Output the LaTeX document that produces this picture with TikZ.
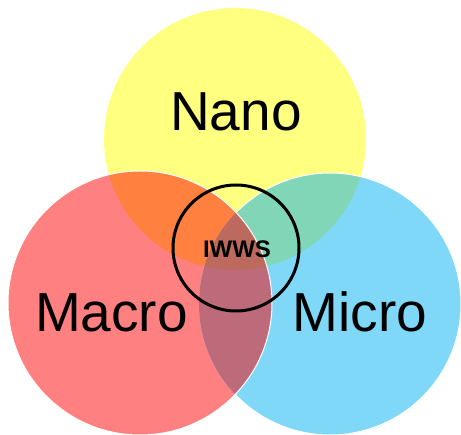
\documentclass[tikz,border=0pt]{standalone}
\usepackage{fontspec}
\setmainfont{Liberation Sans}
\definecolor{cY}{HTML}{FFFF80}
\definecolor{cR}{HTML}{FF8080}
\definecolor{cB}{HTML}{80D8F8}
\definecolor{cYR}{HTML}{FF803F}
\definecolor{cYB}{HTML}{80D6B6}
\definecolor{cRB}{HTML}{BD6A7A}
\definecolor{cYRB}{HTML}{BD6A5E}
\tikzset{
  bigtext/.style={font=\fontsize{55}{60}\selectfont, anchor=base, inner sep=0pt},
  ring/.style={draw=white, line width=1pt}
}
\begin{document}
\begin{tikzpicture}[x=1pt,y=-1pt]
\useasboundingbox[fill=white] (0,0) rectangle (461,435);
\def\Ycirc{(235,139) circle[radius=131]}
\def\Rcirc{(140,303) circle[radius=132]}
\def\Bcirc{(330,304) circle[radius=131]}
\fill[cY] \Ycirc;
\fill[cR] \Rcirc;
\fill[cB] \Bcirc;
\begin{scope}
  \clip \Ycirc;
  \fill[cYR] \Rcirc;
  \fill[cYB] \Bcirc;
\end{scope}
\begin{scope}
  \clip \Rcirc;
  \fill[cRB] \Bcirc;
  \clip \Ycirc;
  \fill[cYRB] \Bcirc;
\end{scope}
\draw[ring] (330,304) ++(-135.74:131) arc[start angle=-135.74, end angle=136.36, radius=131];
\draw[ring] \Rcirc;
\node[bigtext] (nano) at (236,131) {Nano};
\node[bigtext] (macro) at (111.5,332) {Macro};
\node[bigtext] (micro) at (360,332) {Micro};
\node[draw=black, line width=3pt, circle, minimum size=126pt, inner sep=0pt] (iwws) at (236,248) {};
\node[font=\bfseries\fontsize{24}{28}\selectfont, anchor=base, inner sep=0pt] (iwwslabel) at (237,258) {IWWS};
\end{tikzpicture}
\end{document}
